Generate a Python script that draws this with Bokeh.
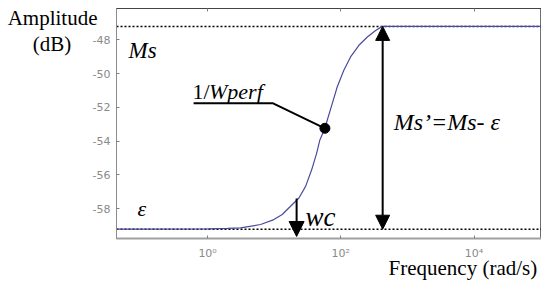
from bokeh.plotting import figure
from bokeh.models import Label, Arrow, NormalHead, FixedTicker, LogAxis, Range1d
from bokeh.embed import file_html
from bokeh.resources import INLINE

# ---- data ----
freq = [0.04, 1.0, 2.0, 3.13, 6.25, 9.89, 13.2, 17.6, 23.5, 29.6, 36.5, 43.4,
        48.5, 57.7, 62.7, 74.5, 88.5, 111, 140, 187, 250, 333, 420, 1000, 200000]
mag = [-59.22, -59.2, -59.17, -59.14, -58.94, -58.65, -58.35, -57.86, -57.37,
       -56.68, -55.70, -54.71, -53.93, -53.24, -52.75, -51.76, -50.78, -49.80,
       -49.01, -48.32, -47.83, -47.44, -47.2, -47.2, -47.2]

x_ticks = [1, 100, 10000]
x_tick_labels = ["10\u2070", "10\u00b2", "10\u2074"]
y_ticks = [-58, -56, -54, -52, -50, -48]
y_tick_labels = ["-58", "-56", "-54", "-52", "-50", "-48"]

ms_level = -47.2
eps_level = -59.22
wperf_freq = 57.7
wperf_mag = -53.24
wc_freq = 21.7
wc_top = -57.4
wc_bottom = -59.65
ms_arrow_freq = 425

x_start, x_end = 0.0429, 103000
y_start, y_end = -59.77, -46.14

SERIF = "Liberation Serif"
GRAY = "#8a8a8a"
NBSP = "\u00a0"

p = figure(width=541, height=282, x_axis_type="log",
           x_range=Range1d(x_start, x_end), y_range=Range1d(y_start, y_end),
           output_backend="svg", toolbar_location=None,
           min_border_left=116, min_border_right=0, min_border_top=8,
           min_border_bottom=43)
p.grid.visible = False
p.outline_line_color = "#707070"
p.outline_line_width = 1
p.background_fill_color = "white"

# axes
xa = p.xaxis[0]
xa.ticker = FixedTicker(ticks=x_ticks)
xa.major_label_overrides = dict(zip(x_ticks, x_tick_labels))
xa.major_tick_in = 3
xa.major_tick_out = 0
xa.minor_tick_in = 0
xa.minor_tick_out = 0
xa.major_label_standoff = 8
xa.axis_line_color = "#a0a0a0"
xa.axis_line_width = 2
xa.major_tick_line_color = "#808080"
xa.major_label_text_color = GRAY
xa.major_label_text_font = "DejaVu Sans"
xa.major_label_text_font_size = "11px"
xa.axis_label = NBSP * 51 + "Frequency (rad/s)"
xa.axis_label_standoff = -7
xa.axis_label_text_font = SERIF
xa.axis_label_text_font_style = "normal"
xa.axis_label_text_font_size = "21px"
xa.axis_label_text_color = "black"

ya = p.yaxis[0]
ya.ticker = FixedTicker(ticks=y_ticks)
ya.major_label_overrides = dict(zip(y_ticks, y_tick_labels))
ya.major_tick_in = 3
ya.major_tick_out = 0
ya.minor_tick_in = 0
ya.minor_tick_out = 0
ya.major_label_standoff = 6
ya.axis_line_color = "#8c8c8c"
ya.major_tick_line_color = "#808080"
ya.major_label_text_color = GRAY
ya.major_label_text_font = "DejaVu Sans"
ya.major_label_text_font_size = "11px"
ya.axis_label = "\n".join(["Amplitude", "(dB)" + NBSP * 5] + [NBSP] * 7)
ya.axis_label_orientation = "horizontal"
ya.axis_label_standoff = -8
ya.axis_label_text_font = SERIF
ya.axis_label_text_font_style = "normal"
ya.axis_label_text_font_size = "21px"
ya.axis_label_text_line_height = 1.1
ya.axis_label_text_color = "black"
ya.axis_label_text_align = "center"

top = LogAxis(ticker=FixedTicker(ticks=x_ticks), major_label_text_font_size="1px",
              major_label_text_alpha=0,
              major_tick_in=3, major_tick_out=0, minor_tick_in=0, minor_tick_out=0,
              major_label_standoff=0, axis_line_color="#444444", axis_line_width=1,
              major_tick_line_color="#808080")
p.add_layout(top, "above")

# dotted reference levels
p.line([x_start, x_end], [ms_level, ms_level], line_color="black",
       line_width=1.5, line_dash="2 2")
p.line([x_start, x_end], [eps_level, eps_level], line_color="black",
       line_width=1.5, line_dash="2 2")

# magnitude curve
p.line(freq, mag, line_color="#4a4aa0", line_width=1.2)

# leader line to 1/Wperf
p.line([0.616, 9.46, wperf_freq], [-51.75, -51.75, wperf_mag],
       line_color="black", line_width=2)
p.scatter([wperf_freq], [wperf_mag], size=10, color="black")

# arrows
p.add_layout(Arrow(x_start=ms_arrow_freq, y_start=eps_level,
                   x_end=ms_arrow_freq, y_end=ms_level,
                   start=NormalHead(size=14, fill_color="black", line_color="black"),
                   end=NormalHead(size=14, fill_color="black", line_color="black"),
                   line_width=2, line_color="black"))
p.add_layout(Arrow(x_start=wc_freq, y_start=wc_top, x_end=wc_freq, y_end=wc_bottom,
                   end=NormalHead(size=15, fill_color="black", line_color="black"),
                   line_width=2, line_color="black"))

def lab(x, y, text, size, style="normal", align="left", font=SERIF):
    p.add_layout(Label(x=x, y=y, text=text, text_font=font,
                       text_font_size=size, text_font_style=style,
                       text_align=align, text_baseline="alphabetic",
                       text_color="black"))

lab(0.0651, -48.62, "Ms", "23px", "italic")
lab(0.0889, -58.0, "\u03b5", "22px", "italic")
lab(0.595, -51.04, "1/", "22px")
lab(1.05, -51.04, "Wperf", "22px", "italic")
lab(29.6, -58.47, "wc", "27px", "italic")
lab(621, -52.87, "Ms\u2019=Ms- \u03b5", "24px", "italic")

open("out.html", "w").write(file_html(p, INLINE))
